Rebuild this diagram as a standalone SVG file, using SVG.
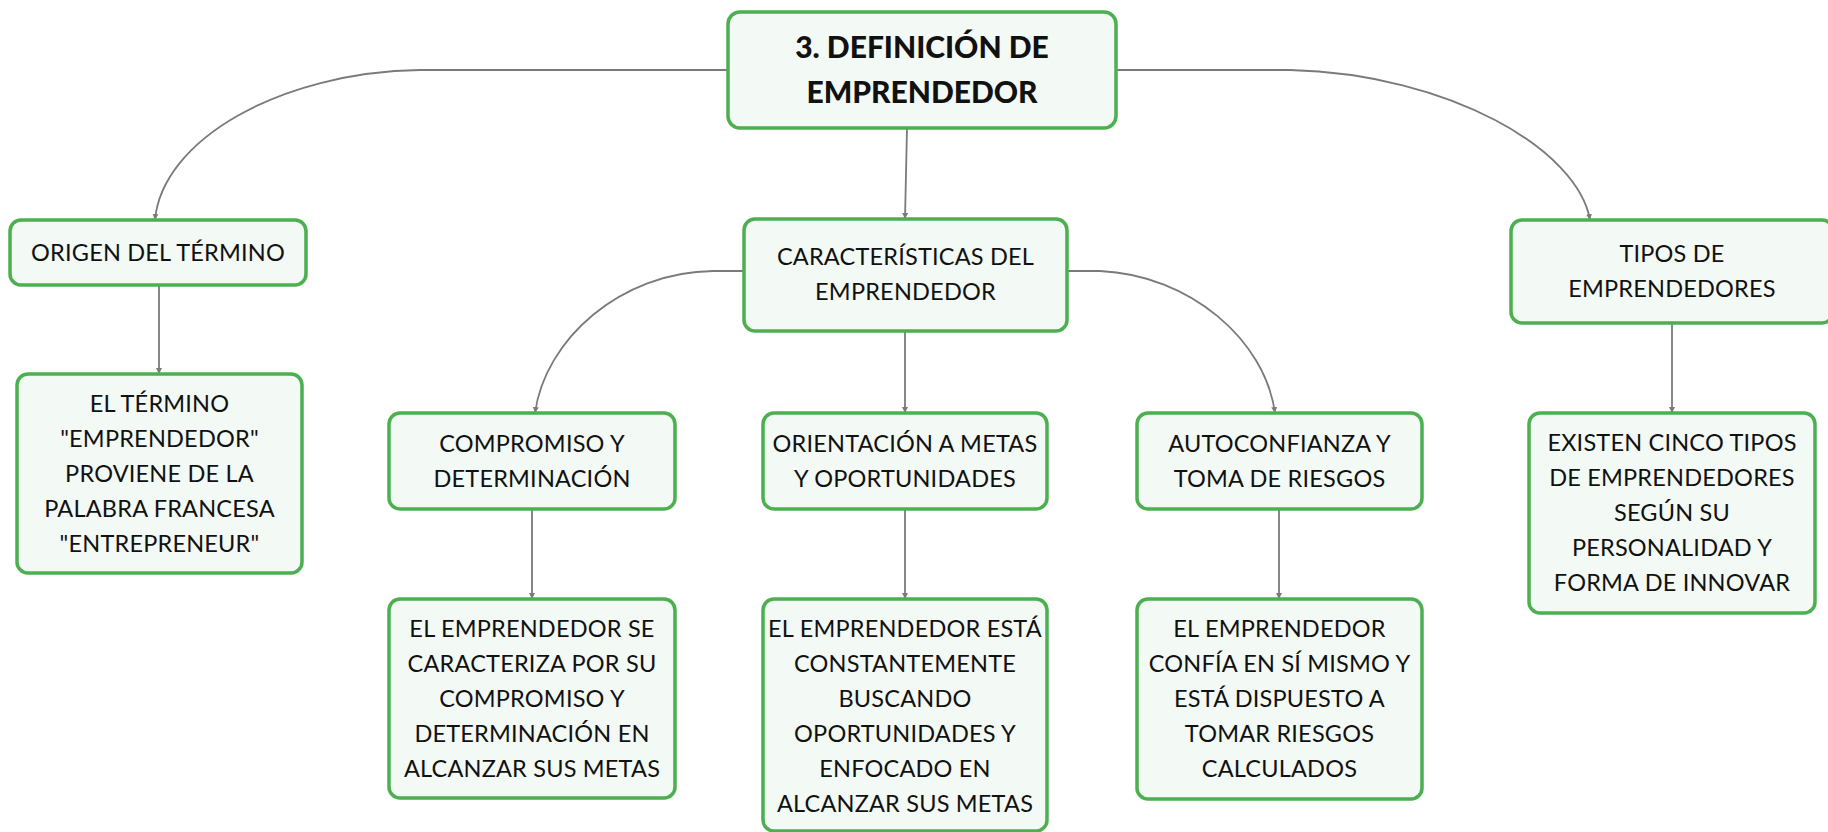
<svg xmlns="http://www.w3.org/2000/svg" width="1828" height="832" viewBox="0 0 1828 832">
<defs>
<style>
.box{fill:#f3f9f4;stroke:#4caf50;stroke-width:3.5}
.t{font-family:Lato,"Noto Sans","DejaVu Sans",sans-serif;font-size:23.5px;letter-spacing:0.2px;fill:#111;text-anchor:middle}
.tb{font-family:Lato,"Noto Sans","DejaVu Sans",sans-serif;font-size:30px;font-weight:900;fill:#111;text-anchor:middle}
.c{fill:none;stroke:#7a7a7a;stroke-width:1.8}
</style>
<marker id="ar" markerWidth="8" markerHeight="8" refX="6" refY="3" orient="auto" markerUnits="userSpaceOnUse">
<path d="M0,0 L6,3 L0,6 z" fill="#7a7a7a"/>
</marker>
</defs>
<rect width="1828" height="832" fill="#ffffff"/>
<g id="connectors">
<path class="c" d="M727,70 H420 C280,72 162,140 155,220" marker-end="url(#ar)"/>
<path class="c" d="M1117,70 H1290 C1450,74 1578,150 1590,220" marker-end="url(#ar)"/>
<path class="c" d="M907,128 L905,219" marker-end="url(#ar)"/>
<path class="c" d="M744,271 H713 C620,272 545,340 535,413" marker-end="url(#ar)"/>
<path class="c" d="M1067,271 H1100 C1190,275 1265,340 1275,413" marker-end="url(#ar)"/>
<path class="c" d="M905,331 V413" marker-end="url(#ar)"/>
<path class="c" d="M159,285 V374" marker-end="url(#ar)"/>
<path class="c" d="M532,509 V599" marker-end="url(#ar)"/>
<path class="c" d="M905,509 V599" marker-end="url(#ar)"/>
<path class="c" d="M1279,509 V599" marker-end="url(#ar)"/>
<path class="c" d="M1672,323 V413" marker-end="url(#ar)"/>
</g>
<g id="root">
<rect class="box" x="728" y="12" width="388" height="116" rx="12"/>
<text class="tb" x="922" y="58">3. DEFINICIÓN DE</text>
<text class="tb" x="922" y="103">EMPRENDEDOR</text>
</g>
<g id="origen">
<rect class="box" x="10" y="220" width="296" height="65" rx="11"/>
<text class="t" x="158" y="261">ORIGEN DEL TÉRMINO</text>
</g>
<g id="origen-desc">
<rect class="box" x="17" y="374" width="285" height="199" rx="11"/>
<text class="t" x="159.5" y="412">EL TÉRMINO</text>
<text class="t" x="159.5" y="447">"EMPRENDEDOR"</text>
<text class="t" x="159.5" y="482">PROVIENE DE LA</text>
<text class="t" x="159.5" y="517">PALABRA FRANCESA</text>
<text class="t" x="159.5" y="552">"ENTREPRENEUR"</text>
</g>
<g id="caracteristicas">
<rect class="box" x="744" y="219" width="323" height="112" rx="11"/>
<text class="t" x="905.5" y="265">CARACTERÍSTICAS DEL</text>
<text class="t" x="905.5" y="300">EMPRENDEDOR</text>
</g>
<g id="tipos">
<rect class="box" x="1511" y="220" width="322" height="103" rx="11"/>
<text class="t" x="1672" y="262">TIPOS DE</text>
<text class="t" x="1672" y="297">EMPRENDEDORES</text>
</g>
<g id="tipos-desc">
<rect class="box" x="1529" y="413" width="286" height="200" rx="11"/>
<text class="t" x="1672" y="451">EXISTEN CINCO TIPOS</text>
<text class="t" x="1672" y="486">DE EMPRENDEDORES</text>
<text class="t" x="1672" y="521">SEGÚN SU</text>
<text class="t" x="1672" y="556">PERSONALIDAD Y</text>
<text class="t" x="1672" y="591">FORMA DE INNOVAR</text>
</g>
<g id="compromiso">
<rect class="box" x="389" y="413" width="286" height="96" rx="11"/>
<text class="t" x="532" y="452">COMPROMISO Y</text>
<text class="t" x="532" y="487">DETERMINACIÓN</text>
</g>
<g id="compromiso-desc">
<rect class="box" x="389" y="599" width="286" height="199" rx="11"/>
<text class="t" x="532" y="637">EL EMPRENDEDOR SE</text>
<text class="t" x="532" y="672">CARACTERIZA POR SU</text>
<text class="t" x="532" y="707">COMPROMISO Y</text>
<text class="t" x="532" y="742">DETERMINACIÓN EN</text>
<text class="t" x="532" y="777">ALCANZAR SUS METAS</text>
</g>
<g id="orientacion">
<rect class="box" x="763" y="413" width="284" height="96" rx="11"/>
<text class="t" x="905" y="452">ORIENTACIÓN A METAS</text>
<text class="t" x="905" y="487">Y OPORTUNIDADES</text>
</g>
<g id="orientacion-desc">
<rect class="box" x="763" y="599" width="284" height="232" rx="11"/>
<text class="t" x="905" y="637">EL EMPRENDEDOR ESTÁ</text>
<text class="t" x="905" y="672">CONSTANTEMENTE</text>
<text class="t" x="905" y="707">BUSCANDO</text>
<text class="t" x="905" y="742">OPORTUNIDADES Y</text>
<text class="t" x="905" y="777">ENFOCADO EN</text>
<text class="t" x="905" y="812">ALCANZAR SUS METAS</text>
</g>
<g id="autoconfianza">
<rect class="box" x="1137" y="413" width="285" height="96" rx="11"/>
<text class="t" x="1279.5" y="452">AUTOCONFIANZA Y</text>
<text class="t" x="1279.5" y="487">TOMA DE RIESGOS</text>
</g>
<g id="autoconfianza-desc">
<rect class="box" x="1137" y="599" width="285" height="200" rx="11"/>
<text class="t" x="1279.5" y="637">EL EMPRENDEDOR</text>
<text class="t" x="1279.5" y="672">CONFÍA EN SÍ MISMO Y</text>
<text class="t" x="1279.5" y="707">ESTÁ DISPUESTO A</text>
<text class="t" x="1279.5" y="742">TOMAR RIESGOS</text>
<text class="t" x="1279.5" y="777">CALCULADOS</text>
</g>
</svg>
